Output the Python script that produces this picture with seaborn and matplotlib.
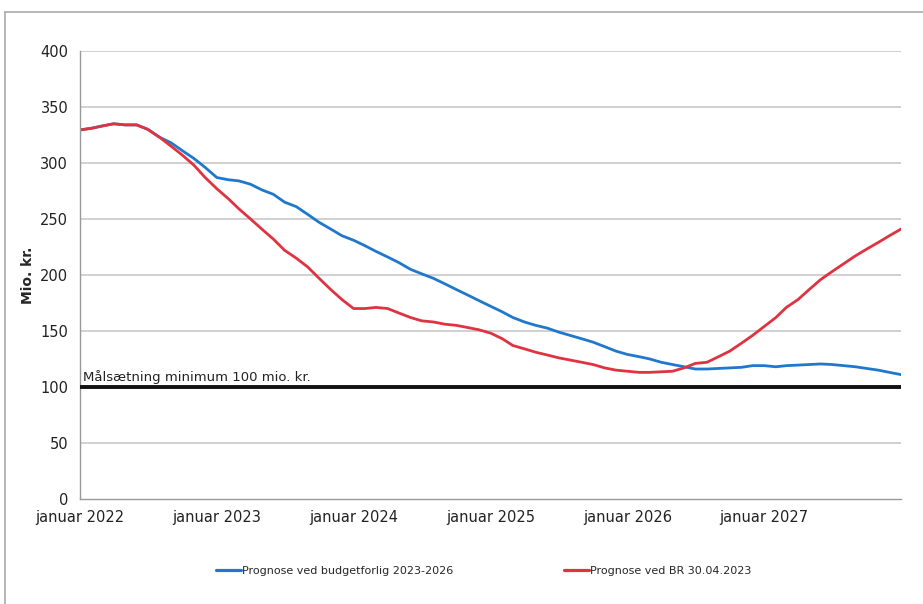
import pandas as pd
import seaborn as sns
import matplotlib.pyplot as plt
import matplotlib.dates as mdates
from matplotlib.lines import Line2D

# monthly values, januar 2022 .. januar 2028 (mio. kr.)
months = pd.date_range('2022-01-01', '2028-01-01', freq='MS')

budgetforlig = [
    329.5, 331, 333, 335, 334, 334, 330, 323, 318, 311, 304, 296,
    287, 285, 284, 281, 276, 272, 265, 261, 254, 247, 241, 235,
    231, 226, 221, 216, 211, 205, 201, 197, 192, 187, 182, 177,
    172, 167, 162, 158, 155, 152.5, 149, 146, 143, 140, 136, 132,
    129, 127, 125, 122, 120, 118, 116, 116, 116.5, 117, 117.5, 119,
    119, 118, 119, 119.5, 120, 120.5, 120, 119, 118, 116.5, 115, 113,
    111,
]
br_2023 = [
    329.5, 331, 333, 335, 334, 334, 330, 323, 315, 307, 298, 287,
    277, 268, 259, 250, 241, 232, 222, 215, 207, 197, 187, 178,
    170, 170, 171, 170, 166, 162, 159, 158, 156, 155, 153, 151,
    148, 143, 137, 134, 131, 128.5, 126, 124, 122, 120, 117, 115,
    114, 113, 113, 113.5, 114, 117, 121, 122, 127, 132, 139, 146,
    154, 162, 171, 178, 187, 196, 203, 210, 217, 223, 229, 235,
    241,
]
series_names = ['Prognose ved budgetforlig 2023-2026', 'Prognose ved BR 30.04.2023']
target = 100
target_label = 'Målsætning minimum 100 mio. kr.'

df = pd.concat([
    pd.DataFrame({'Dato': months, 'Værdi': budgetforlig, 'Serie': series_names[0]}),
    pd.DataFrame({'Dato': months, 'Værdi': br_2023, 'Serie': series_names[1]}),
])

sns.set_style('white')
plt.rcParams['font.family'] = ['DejaVu Sans']

fig = plt.figure(figsize=(9.23, 6.04), dpi=100)
ax = fig.add_axes([0.0867, 0.174, 0.8895, 0.7416])

# horizontal grid lines
for v in range(50, 401, 50):
    ax.axhline(v, color='#c8c8c8', lw=1.2, zorder=0)

sns.lineplot(data=df, x='Dato', y='Værdi', hue='Serie', ax=ax,
             palette=['#1f78cc', '#e03341'], linewidth=2.0, legend=False)

ax.axhline(target, color='#111111', lw=2.8, zorder=3)
ax.text(mdates.date2num(pd.Timestamp('2022-01-10')), target + 3, target_label,
        fontsize=9.5, color='#222222', va='bottom')

ax.set_xlim(pd.Timestamp('2022-01-01'), pd.Timestamp('2028-01-01'))
ax.set_ylim(0, 400)
ax.set_yticks(range(0, 401, 50))
ticks = pd.date_range('2022-01-01', '2028-01-01', freq='YS')
ax.set_xticks(ticks)
ax.set_xticklabels([f'januar {d.year}' for d in ticks[:-1]] + [''])
ax.tick_params(axis='both', labelsize=10.5, length=5,
               color='#999999', direction='out', labelcolor='#222222')
ax.tick_params(axis='x', pad=3)
ax.set_xlabel('')
ax.set_ylabel('Mio. kr.', fontsize=10, fontweight='bold', labelpad=4)

for s in ['top', 'right']:
    ax.spines[s].set_visible(False)
for s in ['left', 'bottom']:
    ax.spines[s].set_color('#999999')
    ax.spines[s].set_linewidth(1)

handles = [Line2D([], [], color=c, lw=2.3) for c in ['#1f78cc', '#e03341']]
fig.legend(handles, series_names, loc='center', bbox_to_anchor=(0.524, 0.055),
           ncol=2, frameon=False, fontsize=8, handlelength=2.25,
           handletextpad=0.1, columnspacing=9.9)

# outer chart frame (left and top edges visible)
fig.add_artist(Line2D([5 / 923, 5 / 923], [0, 1 - 12 / 604], color='#aaaaaa', lw=1.2))
fig.add_artist(Line2D([5 / 923, 1], [1 - 12 / 604, 1 - 12 / 604], color='#aaaaaa', lw=1.2))

fig.savefig('out.png', dpi=100)
